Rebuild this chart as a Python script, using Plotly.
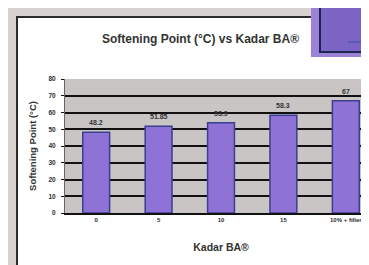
import plotly.graph_objects as go

categories = ["0", "5", "10", "15", "10% + filler"]
values = [48.2, 51.85, 53.9, 58.3, 67]
value_labels = ["48.2", "51.85", "53.9", "58.3", "67"]
y_ticks = [0, 10, 20, 30, 40, 50, 60, 70, 80]

W, H = 369, 265
L, R, T, B = 57, 0, 71, 60
pw, ph = W - L - R, H - T - B

def px(x):
    return (x - L) / pw

def py(y):
    return (H - B - y) / ph

font = "Liberation Sans, Arial, sans-serif"
txt = "#2e2e2e"

fig = go.Figure(go.Bar(
    x=categories, y=values,
    marker=dict(color="#8f72d6", line=dict(color="#3a3f8e", width=1.5)),
    width=0.43, cliponaxis=False,
))

shapes = [
    dict(type="rect", xref="paper", yref="paper", x0=px(9), x1=px(W + 5), y0=py(H + 5), y1=py(9),
         fillcolor="white", line=dict(color="#2a2a2a", width=2), layer="below"),
    dict(type="rect", xref="paper", yref="paper", x0=0, x1=1, y0=0, y1=1,
         fillcolor="#c9c5c5", line=dict(width=0), layer="below"),
    dict(type="rect", xref="paper", yref="paper", x0=px(303), x1=px(W + 5), y0=py(49), y1=py(-5),
         fillcolor="#9b82d6", line=dict(width=0), layer="above"),
    dict(type="rect", xref="paper", yref="paper", x0=px(312), x1=px(W + 5), y0=py(44), y1=py(-5),
         fillcolor="#7c64c4", line=dict(color="#1e2450", width=2), layer="above"),
    dict(type="line", xref="paper", yref="paper", x0=px(340), x1=px(W), y0=py(34), y1=py(34),
         line=dict(color="#3d4fa8", width=1), layer="above"),
]

annotations = [
    dict(text="<b>Softening Point (°C) vs Kadar BA®</b>", xref="paper", yref="paper",
         x=px(192), y=py(31), showarrow=False, font=dict(size=12, color="#333333"),
         xanchor="center", yanchor="middle"),
]
for i, (v, lab) in enumerate(zip(values, value_labels)):
    annotations.append(dict(x=i, y=v, xref="x", yref="y", text="<b>" + lab + "</b>", showarrow=False,
                            yanchor="bottom", yshift=4,
                            font=dict(size=7, color="#333333")))

fig.update_layout(
    width=W, height=H,
    margin=dict(l=L, r=R, t=T, b=B),
    paper_bgcolor="#d7d1cf",
    plot_bgcolor="rgba(0,0,0,0)",
    showlegend=False,
    shapes=shapes,
    font=dict(family=font, color=txt),
    annotations=annotations,
    xaxis=dict(
        type="category", range=[-0.5, len(categories) - 0.5],
        tickvals=categories, ticktext=["<b>" + c + "</b>" for c in categories],
        tickangle=0,
        showline=True, linecolor="#111111", linewidth=1.5,
        ticks="", tickfont=dict(size=6, color=txt), showgrid=False,
        title=dict(text="<b>Kadar BA®</b>", font=dict(size=10.5, color="#333333"), standoff=22),
    ),
    yaxis=dict(
        range=[0, 80], tickvals=y_ticks, ticktext=["<b>%d</b>" % t for t in y_ticks],
        showgrid=True, gridcolor="#111111", gridwidth=1.6,
        showline=True, linecolor="#666666", linewidth=1,
        ticks="outside", ticklen=3, tickcolor="#111111",
        ticklabelstandoff=4,
        tickfont=dict(size=6.5, color=txt),
        title=dict(text="<b>Softening Point (°C)</b>", font=dict(size=9.5, color="#333333"), standoff=10),
        zeroline=False,
    ),
)

fig.write_html("out.html")
